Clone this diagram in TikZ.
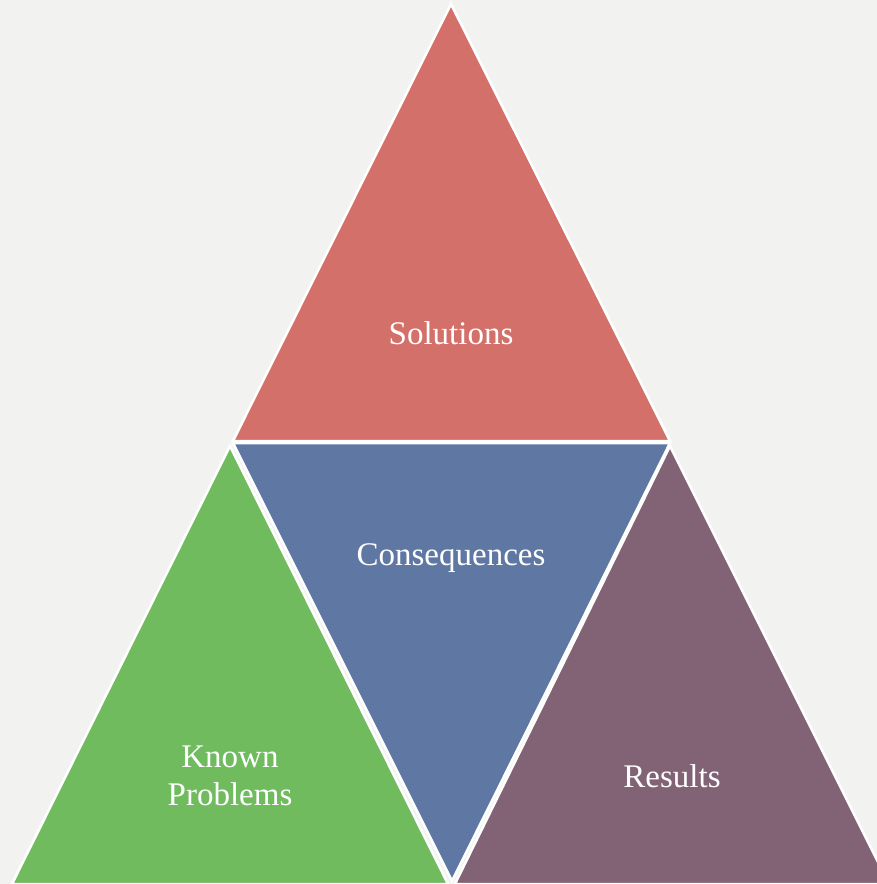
\documentclass[tikz,border=0pt]{standalone}
\usepackage{fontspec}
\setmainfont{Liberation Serif}
\definecolor{bgc}{HTML}{F2F2F0}
\definecolor{redc}{HTML}{D4706A}
\definecolor{bluec}{HTML}{5F78A3}
\definecolor{greenc}{HTML}{71BB5F}
\definecolor{purplec}{HTML}{826375}
\begin{document}
\begin{tikzpicture}[x=1pt,y=-1pt,
  tri/.style={draw=white,line width=2.5pt,line join=miter},
  lbl/.style={text=white,font=\fontsize{33}{38}\selectfont,align=center,inner sep=0pt}]
\fill[bgc] (0,0) rectangle (877,884);
\useasboundingbox (0,0) rectangle (877,884);
\begin{scope}
\clip (0,0) rectangle (877,884);
\filldraw[tri,fill=redc] (451,4) -- (670,441) -- (233,441) -- cycle;
\filldraw[tri,fill=bluec] (233,443) -- (670,443) -- (452,881) -- cycle;
\filldraw[tri,fill=greenc] (230,446) -- (448,884) -- (12,884) -- cycle;
\filldraw[tri,fill=purplec] (670,446) -- (889,884) -- (455,884) -- cycle;
\end{scope}
\node[lbl] (sol) at (451,333) {Solutions};
\node[lbl] (con) at (451,558) {Consequences};
\node[lbl] (kp) at (230,776) {Known\\Problems};
\node[lbl] (res) at (672,776) {Results};
\end{tikzpicture}
\end{document}
